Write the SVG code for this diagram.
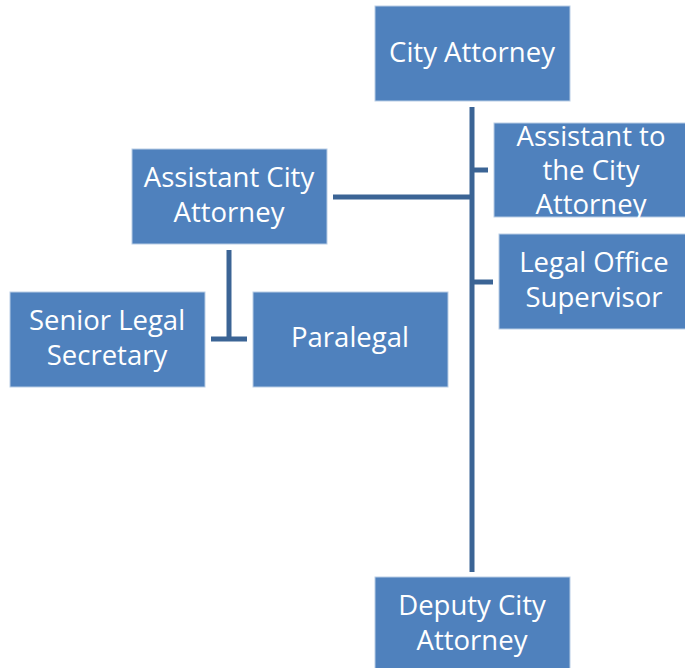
<svg xmlns="http://www.w3.org/2000/svg" width="685" height="668" viewBox="0 0 685 668">
<style>
.box{fill:#4F81BD;stroke:#B9CDE5;stroke-width:1}
.t{font-family:"Open Sans","Liberation Sans",sans-serif;font-size:27.5px;fill:#FFFFFF;text-anchor:middle}
.ln{stroke:#3B6495;stroke-width:5;fill:none}
</style>
<rect width="685" height="668" fill="#FFFFFF"/>
<g id="connectors">
<line class="ln" x1="472" y1="107" x2="472" y2="572"/>
<line class="ln" x1="472" y1="170" x2="488" y2="170"/>
<line class="ln" x1="472" y1="282" x2="493" y2="282"/>
<line class="ln" x1="333" y1="197" x2="472" y2="197"/>
<line class="ln" x1="229" y1="250" x2="229" y2="339"/>
<line class="ln" x1="211" y1="339" x2="247" y2="339"/>
</g>
<g id="city-attorney">
<rect class="box" x="375" y="6" width="195" height="95"/>
<text class="t" x="472" y="62">City Attorney</text>
</g>
<g id="assistant-to-city-attorney">
<rect class="box" x="494" y="123" width="195" height="94"/>
<text class="t" x="591" y="146">Assistant to</text>
<text class="t" x="591" y="180">the City</text>
<text class="t" x="591" y="214">Attorney</text>
</g>
<g id="legal-office-supervisor">
<rect class="box" x="499" y="234" width="190" height="95"/>
<text class="t" x="594" y="272">Legal Office</text>
<text class="t" x="594" y="307">Supervisor</text>
</g>
<g id="assistant-city-attorney">
<rect class="box" x="132" y="149" width="195" height="95"/>
<text class="t" x="229" y="187">Assistant City</text>
<text class="t" x="229" y="222">Attorney</text>
</g>
<g id="senior-legal-secretary">
<rect class="box" x="10" y="292" width="195" height="95"/>
<text class="t" x="107" y="330">Senior Legal</text>
<text class="t" x="107" y="365">Secretary</text>
</g>
<g id="paralegal">
<rect class="box" x="253" y="292" width="195" height="95"/>
<text class="t" x="350" y="347">Paralegal</text>
</g>
<g id="deputy-city-attorney">
<rect class="box" x="375" y="577" width="195" height="95"/>
<text class="t" x="472" y="615">Deputy City</text>
<text class="t" x="472" y="650">Attorney</text>
</g>
</svg>
